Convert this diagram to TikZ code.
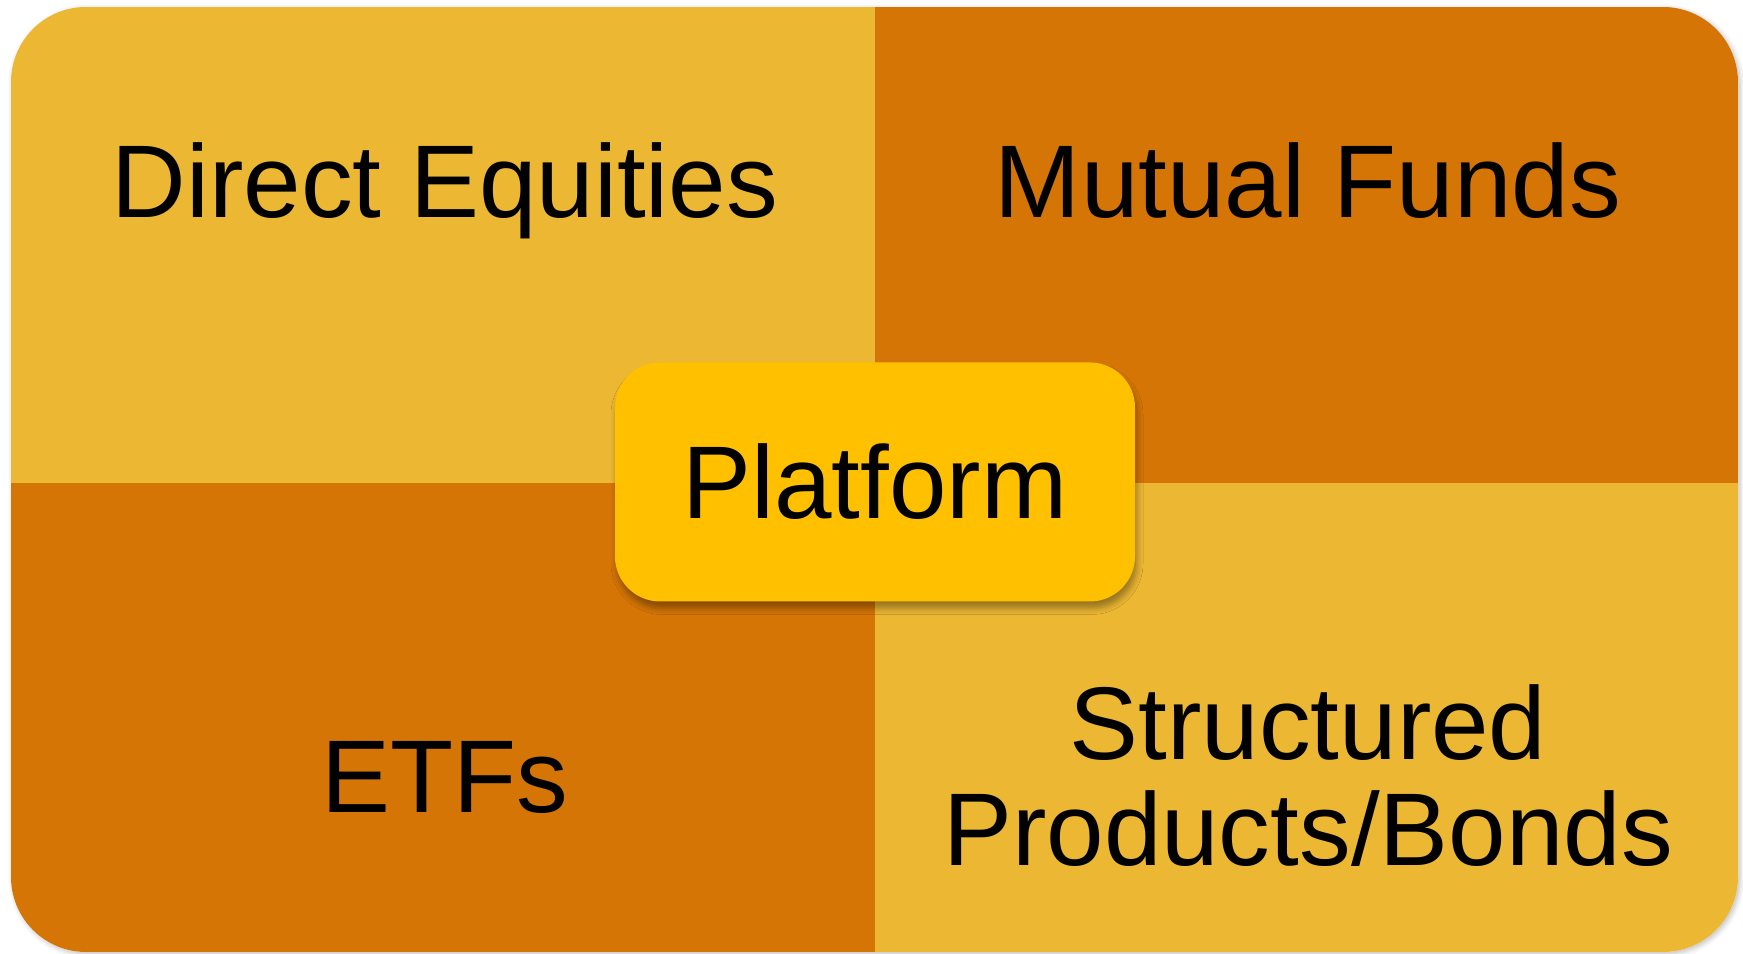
\documentclass[tikz,border=0pt]{standalone}
\usepackage{fontspec}
\setmainfont{Liberation Sans}
\usetikzlibrary{shadows,shadows.blur}
\definecolor{lightgold}{RGB}{236,183,51}
\definecolor{deeporange}{RGB}{212,117,6}
\definecolor{platgold}{RGB}{255,192,0}

\begin{document}
\begin{tikzpicture}[font=\fontsize{29.4}{30}\selectfont,
 label node/.style={anchor=base,align=center},
 platform node/.style={rounded corners=0.45cm,fill=platgold,minimum width=5.2cm,
   minimum height=2.39cm,blur shadow={shadow xshift=0.02cm,shadow yshift=-0.07cm,
   shadow blur radius=0.06cm,shadow opacity=35}}]
  \useasboundingbox (0,0) rectangle (17.43,9.54);
  % outer box with its shadow
  \path[rounded corners=0.75cm,fill=white,
    blur shadow={shadow xshift=0.02cm,shadow yshift=-0.02cm,shadow blur radius=0.05cm,shadow opacity=25}]
    (0.11,0.02) rectangle (17.38,9.47);
  \begin{scope}
    \clip[rounded corners=0.75cm] (0.11,0.02) rectangle (17.38,9.47);
    \foreach \xa/\ya/\xb/\yb/\c in {0.11/4.71/8.75/9.47/lightgold, 8.75/4.71/17.38/9.47/deeporange,
      0.11/0.02/8.75/4.71/deeporange, 8.75/0.02/17.38/4.71/lightgold} {
      \fill[\c] (\xa,\ya) rectangle (\xb,\yb);}
  \end{scope}

  \node[label node] (DE) at (4.45,7.36) {Direct Equities};
  \node[label node] (MF) at (13.08,7.36) {Mutual Funds};
  \node[label node] (ETF) at (4.45,1.41) {ETFs};
  \node[label node] (SP) at (13.08,0.889) {Structured\\Products/Bonds};

  \node[platform node] (P) at (8.75,4.72) {Platform};
\end{tikzpicture}
\end{document}
